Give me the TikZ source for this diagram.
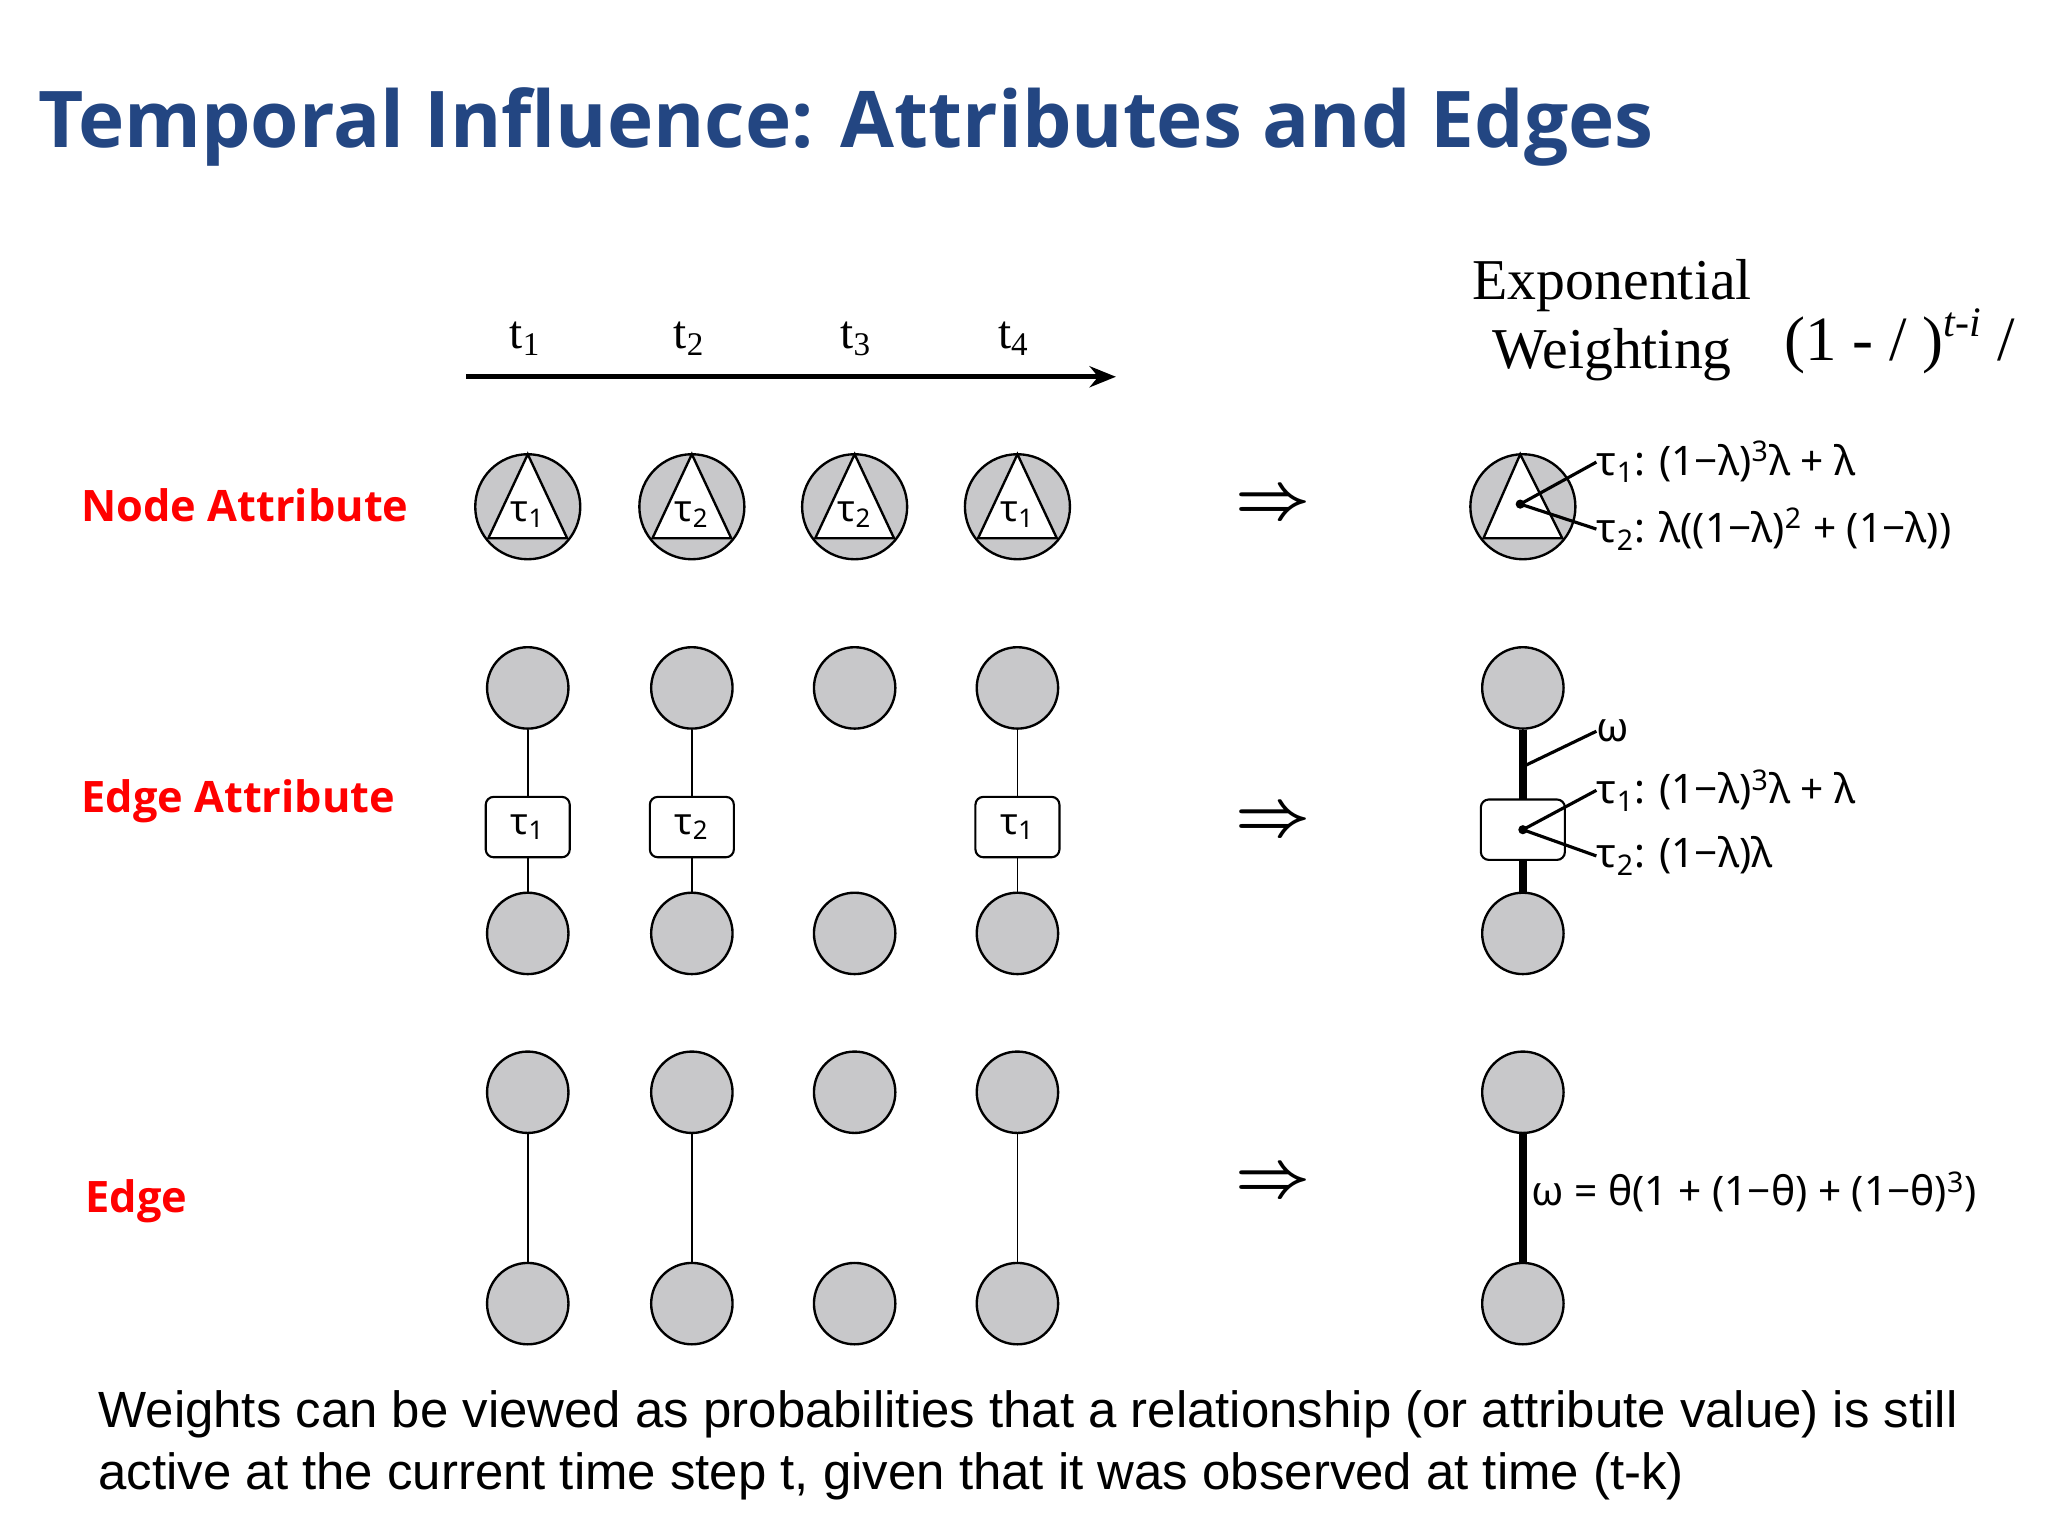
\documentclass[tikz,border=0pt]{standalone}
\usepackage{fontspec}
\setmainfont{Liberation Serif}
\newfontfamily\titlef{Open Sans}
\newfontfamily\labf{Noto Sans}
\newfontfamily\bodyf{Liberation Sans}
\usetikzlibrary{arrows.meta}
\definecolor{nodegray}{RGB}{200,200,202}
\definecolor{titleblue}{RGB}{35,70,130}
\begin{document}
\begin{tikzpicture}[x=0.5pt,y=-0.5pt,
  big/.style={circle,draw=black,line width=0.9pt,fill=nodegray,minimum size=40pt,inner sep=0pt},
  sml/.style={circle,draw=black,line width=0.9pt,fill=nodegray,minimum size=31pt,inner sep=0pt},
  tbox/.style={draw=black,line width=0.8pt,fill=white,rounded corners=3pt,minimum width=32pt,minimum height=23pt,inner sep=0pt,font=\labf\fontsize{14}{15}\selectfont},
  tri/.style={draw=black,line width=0.9pt,fill=white},
  rowlab/.style={anchor=west,text=red,font=\titlef\bfseries\fontsize{16.5}{20}\selectfont},
  tlab/.style={font=\fontsize{18}{20}\selectfont},
  eq/.style={anchor=west,inner sep=0pt,font=\labf\fontsize{15.5}{18}\selectfont},
  thin/.style={line width=0.6pt},
  thick/.style={line width=3pt},
  impl/.style={font=\boldmath\fontsize{58}{58}\selectfont}]
\useasboundingbox[fill=white] (0,0) rectangle (1560,1170);
\node[anchor=west,text=titleblue,font=\titlef\bfseries\fontsize{29.8}{34}\selectfont] (title) at (22,97) {Temporal Influence: Attributes and Edges};
% timeline
\coordinate (ta) at (355,287); \coordinate (tb) at (850,287);
\draw[line width=1.8pt,-{Stealth[length=10pt,width=8pt]}] (ta) -- (tb);
\foreach \x/\i in {400/1,525/2,652/3,772/4} \node[tlab] (t\i) at (\x,258) {t\textsubscript{\i}};
% row labels
\node[rowlab] (ln) at (55,385) {Node Attribute};
\node[rowlab] (le) at (55,610) {Edge Attribute};
\node[rowlab] (lg) at (58,915) {Edge};
% node attribute row
\foreach \x/\i/\k in {402/1/1,527/2/2,651/3/2,775/4/1}{
  \node[big] (na\i) at (\x,386) {};
  \draw[tri] (\x,346) -- (\x-30,410) -- (\x+30,410) -- cycle;
  \node[font=\labf\fontsize{14}{15}\selectfont] (nt\i) at (\x,392) {τ\textsubscript{\k}};
}
% edge attribute row
\foreach \x/\i in {402/1,527/2,651/3,775/4}{
  \node[sml] (ea\i) at (\x,524) {};
  \node[sml] (eb\i) at (\x,711) {};
}
\foreach \i/\k/\x in {1/1/402,2/2/527,4/1/775}{
  \node[tbox] (ebx\i) at (\x,630) {τ\textsubscript{\k}};
  \draw[thin] (ea\i) -- (ebx\i); \draw[thin] (ebx\i) -- (eb\i);
}
% edge row
\foreach \x/\i in {402/1,527/2,651/3,775/4}{
  \node[sml] (ga\i) at (\x,832) {};
  \node[sml] (gb\i) at (\x,993) {};
}
\foreach \i in {1,2,4} \draw[thin] (ga\i) -- (gb\i);
% implies
\node[impl] (i1) at (970,385) {$\Rightarrow$};
\node[impl] (i2) at (970,627) {$\Rightarrow$};
\node[impl] (i3) at (970,902) {$\Rightarrow$};
% right header
\node[align=center,font=\fontsize{22}{26}\selectfont] (expw) at (1228,244) {Exponential\\Weighting};
\node[anchor=west,font=\fontsize{24}{26}\selectfont] (form) at (1352,260) {(1 - / )\textsuperscript{\textit{\fontsize{16}{16}\selectfont t-i}} /};
% right node attribute
\node[big] (rn) at (1160,386) {};
\draw[tri] (1158,346) -- (1130,410) -- (1190,410) -- cycle;
\coordinate (rd) at (1158,384);
\fill (rd) circle (3.5);
\node[eq] (r1) at (1216,352) {τ\textsubscript{1}: (1−λ)\textsuperscript{3}λ + λ};
\node[eq] (r2) at (1216,403) {τ\textsubscript{2}: λ((1−λ)\textsuperscript{2} + (1−λ))};
\draw[line width=1.2pt] (rd) -- (r1.west); \draw[line width=1.2pt] (rd) -- (r2.west);
% right edge attribute
\node[sml] (ra) at (1160,524) {};
\node[sml] (rb) at (1160,711) {};
\draw[thick] (ra) -- (rb);
\node[tbox] (rbx) at (1160,632) {};
\coordinate (rbd) at (1160,632); \fill (rbd) circle (3.5);
\coordinate (wa) at (1162,583);
\node[eq] (w1) at (1216,557) {ω};
\node[eq] (e1) at (1216,602) {τ\textsubscript{1}: (1−λ)\textsuperscript{3}λ + λ};
\node[eq] (e2) at (1216,652) {τ\textsubscript{2}: (1−λ)λ};
\draw[line width=1.2pt] (wa) -- (w1.west);
\draw[line width=1.2pt] (rbd) -- (e1.west); \draw[line width=1.2pt] (rbd) -- (e2.west);
% right edge
\node[sml] (ga) at (1160,832) {};
\node[sml] (gb) at (1160,993) {};
\draw[thick] (ga) -- (gb);
\node[eq] (g1) at (1166,908) {ω = θ(1 + (1−θ) + (1−θ)\textsuperscript{3})};
% bottom text
\node[anchor=west,align=left,font=\bodyf\fontsize{19.4}{23.5}\selectfont] (bt) at (68,1101) {Weights can be viewed as probabilities that a relationship (or attribute value) is still\\active at the current time step t, given that it was observed at time (t-k)};
\end{tikzpicture}
\end{document}
